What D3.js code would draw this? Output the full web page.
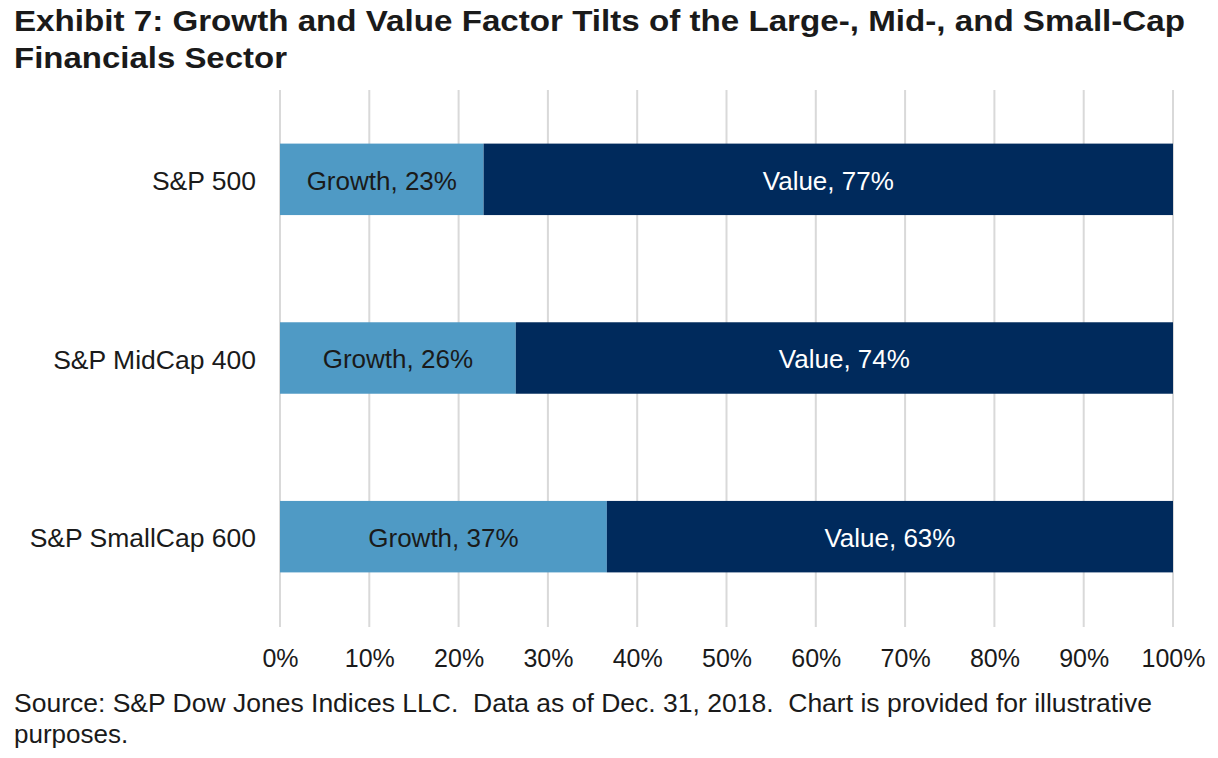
<!DOCTYPE html>
<html>
<head>
<meta charset="utf-8">
<script src="https://cdn.jsdelivr.net/npm/d3@7/dist/d3.min.js"></script>
<style>
  body { margin: 0; background: #fff; }
  svg { font-family: "Liberation Sans", Arial, sans-serif; }
</style>
</head>
<body>
<svg id="chart" width="1218" height="758"></svg>
<script>
// data
const categories = ["S&P 500", "S&P MidCap 400", "S&P SmallCap 600"];
const growth = [22.8, 26.4, 36.6];
const value = growth.map(g => 100 - g);
const ticks = [0, 10, 20, 30, 40, 50, 60, 70, 80, 90, 100];

const svg = d3.select("#chart");
const txt = "#1a1a1a";

const x = d3.scaleLinear().domain([0, 100]).range([280, 1173]);
const y = d3.scaleBand()
    .domain(categories)
    .range([90, 626])
    .paddingInner(0.6)
    .paddingOuter(0.3);

// title (source font is wider than Liberation, so stretch to fit)
svg.append("text")
    .attr("x", 14).attr("y", 31)
    .attr("font-size", 30).attr("font-weight", "bold").attr("fill", txt)
    .attr("textLength", 1171).attr("lengthAdjust", "spacingAndGlyphs")
    .text("Exhibit 7: Growth and Value Factor Tilts of the Large-, Mid-, and Small-Cap");
svg.append("text")
    .attr("x", 14).attr("y", 68)
    .attr("font-size", 30).attr("font-weight", "bold").attr("fill", txt)
    .attr("textLength", 273).attr("lengthAdjust", "spacingAndGlyphs")
    .text("Financials Sector");

// gridlines
svg.append("g").selectAll("line").data(ticks).enter()
    .append("line")
    .attr("x1", d => x(d)).attr("x2", d => x(d))
    .attr("y1", 90).attr("y2", 627)
    .attr("stroke", "#d9d9d9").attr("stroke-width", 2);

// x axis labels
const xAxis = svg.append("g")
    .attr("transform", "translate(0,627)")
    .call(d3.axisBottom(x).tickValues(ticks).tickSize(0).tickPadding(22).tickFormat(d => d + "%"));
xAxis.select(".domain").remove();
xAxis.selectAll("text").attr("font-size", 25).attr("fill", txt)
    .attr("font-family", "Liberation Sans, Arial, sans-serif");

// y axis labels
const yAxis = svg.append("g")
    .attr("transform", "translate(280,0)")
    .call(d3.axisLeft(y).tickSize(0).tickPadding(24));
yAxis.select(".domain").remove();
yAxis.selectAll("text").attr("font-size", 26.5).attr("fill", txt)
    .attr("font-family", "Liberation Sans, Arial, sans-serif")
    .attr("dy", "0.4em");

// bars
const rows = categories.map((c, i) => ({ cat: c, g: growth[i], v: value[i] }));
const bars = svg.append("g").selectAll("g").data(rows).enter().append("g");

bars.append("rect")
    .attr("x", x(0))
    .attr("y", d => y(d.cat))
    .attr("width", d => x(d.g) - x(0))
    .attr("height", y.bandwidth())
    .attr("fill", "#4f9ac5");

bars.append("rect")
    .attr("x", d => x(d.g))
    .attr("y", d => y(d.cat))
    .attr("width", d => x(100) - x(d.g))
    .attr("height", y.bandwidth())
    .attr("fill", "#002a5c");

bars.append("text")
    .attr("x", d => (x(0) + x(d.g)) / 2)
    .attr("y", d => y(d.cat) + y.bandwidth() / 2)
    .attr("dy", "0.4em")
    .attr("text-anchor", "middle")
    .attr("font-size", 26).attr("fill", txt)
    .text(d => "Growth, " + Math.round(d.g) + "%");

bars.append("text")
    .attr("x", d => (x(d.g) + x(100)) / 2)
    .attr("y", d => y(d.cat) + y.bandwidth() / 2)
    .attr("dy", "0.4em")
    .attr("text-anchor", "middle")
    .attr("font-size", 26).attr("fill", "#ffffff")
    .text(d => "Value, " + Math.round(d.v) + "%");

// source note
svg.append("text")
    .attr("x", 14).attr("y", 712)
    .attr("font-size", 26).attr("fill", txt)
    .attr("xml:space", "preserve")
    .attr("textLength", 1138).attr("lengthAdjust", "spacingAndGlyphs")
    .text("Source: S&P Dow Jones Indices LLC.  Data as of Dec. 31, 2018.  Chart is provided for illustrative");
svg.append("text")
    .attr("x", 14).attr("y", 743)
    .attr("font-size", 26).attr("fill", txt)
    .text("purposes.");
</script>
</body>
</html>
